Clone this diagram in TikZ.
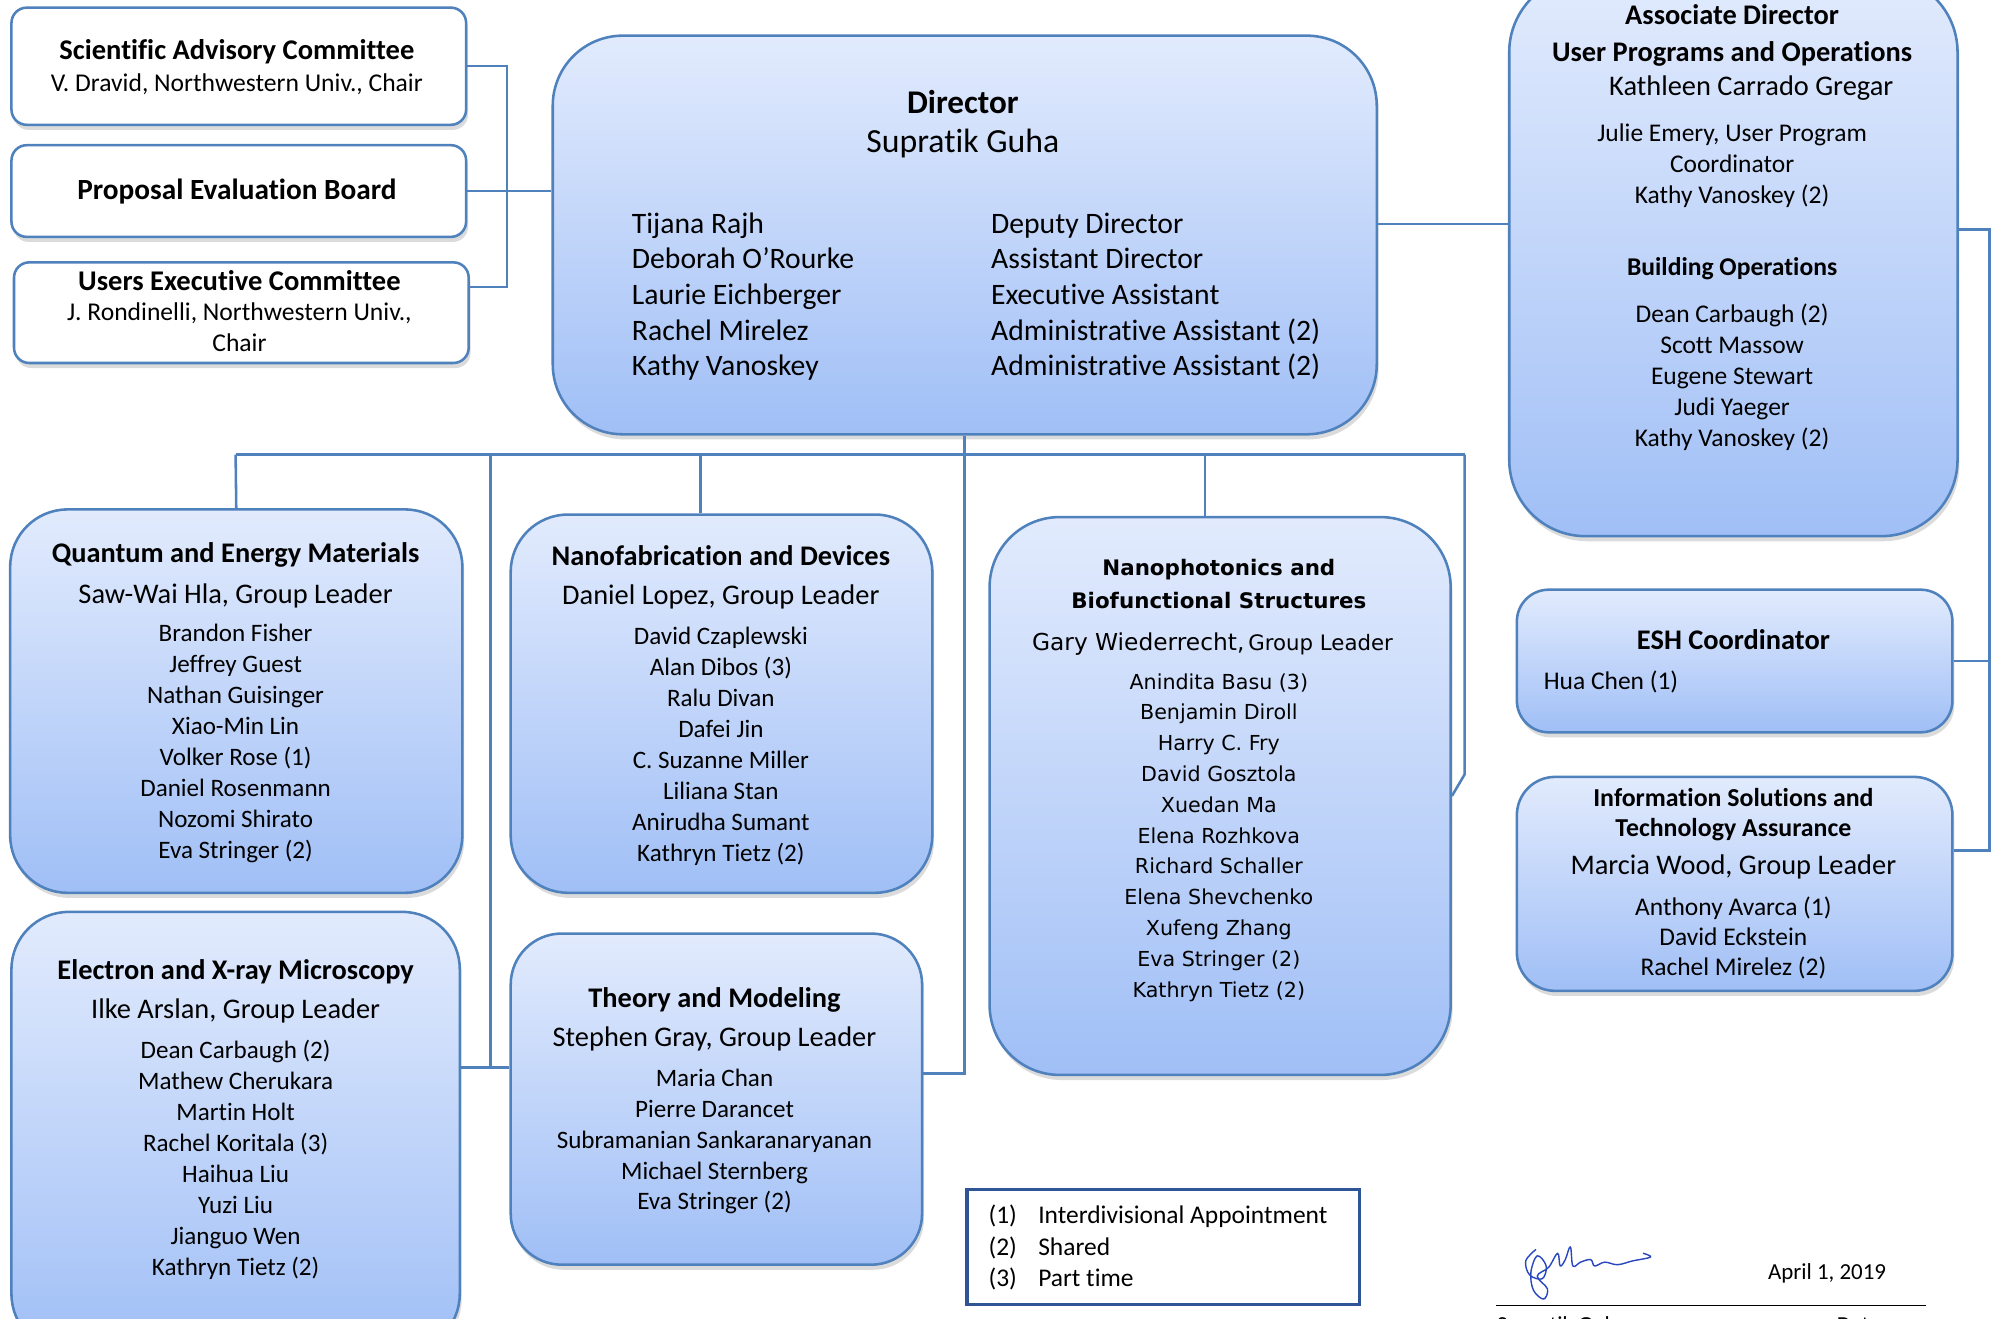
\documentclass[tikz,border=0pt]{standalone}
\usepackage{fontspec}
\setmainfont{Carlito}[Ligatures=NoCommon]
\newfontfamily\dvs{DejaVu Sans}
\usetikzlibrary{shadows,calc}
\definecolor{bord}{RGB}{79,129,189}
\definecolor{topc}{RGB}{226,235,253}
\definecolor{botc}{RGB}{160,191,246}
\definecolor{legb}{RGB}{47,85,151}
\definecolor{sigb}{RGB}{40,70,190}
\newcommand{\fs}[1]{\fontsize{#1}{#1}\selectfont}
\newcommand{\tlines}[6]{%
  \foreach \s [count=\i] in {#6}
    \node[anchor=base, inner sep=0pt, font={#5}] (#1-\i) at (#2,{#3+(\i-1)*#4}) {\s};}
\begin{document}
\begin{tikzpicture}[x=1pt,y=-1pt,
  shad/.style={drop shadow={shadow xshift=1.5pt, shadow yshift=-4pt, opacity=0.28}},
  grp/.style={draw=bord, line width=2pt, top color=topc, bottom color=botc, rounded corners=#1, shad, anchor=north west, inner sep=0pt},
  com/.style={draw=bord, line width=2pt, fill=white, rounded corners=12pt, shad, anchor=north west, inner sep=0pt},
  conn/.style={draw=bord, line width=2pt},
  tx/.style={anchor=base, inner sep=0pt},
  txw/.style={anchor=base west, inner sep=0pt}]
\useasboundingbox (0,0) rectangle (1568,1035);
\fill[white] (0,0) rectangle (1568,1035);

% ---------- boxes ----------
\node[com, minimum width=357, minimum height=92] (sac) at (8,5) {};
\node[com, minimum width=357, minimum height=72] (peb) at (8,113) {};
\node[com, minimum width=357, minimum height=79] (uec) at (10,205) {};
\node[grp=55pt, minimum width=647, minimum height=313] (dir) at (433,27) {};
\node[grp=60pt, minimum width=352, minimum height=440] (ad) at (1184,-20) {};
\node[grp=25pt, minimum width=342, minimum height=112] (esh) at (1190,462) {};
\node[grp=30pt, minimum width=342, minimum height=168] (ista) at (1190,609) {};
\node[grp=45pt, minimum width=355, minimum height=301] (qem) at (7,399) {};
\node[grp=45pt, minimum width=331, minimum height=297] (nf) at (400,403) {};
\node[grp=55pt, minimum width=362, minimum height=438] (np) at (776,405) {};
\node[grp=45pt, minimum width=352, minimum height=345] (el) at (8,715) {};
\node[grp=40pt, minimum width=323, minimum height=260] (th) at (400,732) {};
\node[draw=legb, line width=2.5pt, fill=white, anchor=north west, inner sep=0pt, minimum width=308, minimum height=90] (leg) at (758,933) {};

% ---------- connectors ----------
\coordinate (k) at (398,152);
\draw[conn] (sac.east) -| (k) |- ($(uec.east)+(0,-20)$);
\draw[conn] (peb.east) -- (peb.east -| dir.west);
\coordinate (ja) at (1130,176);
\draw[conn] (dir.east |- ja) -- (ad.west |- ja);
\coordinate (jr) at (1562,180);
\coordinate (ji) at (1540,668);
\draw[conn] (ad.east |- jr) -- (jr) |- (ista.east |- ji);
\draw[conn] (esh.east) -- (esh.east -| jr);
\coordinate (b0) at (185,357);
\coordinate (b1) at (385,357);
\coordinate (b2) at (550,357);
\coordinate (b3) at (946,357);
\coordinate (b4) at (1150,357);
\coordinate (jt) at (755,843);
\coordinate (jl) at (385,838);
\draw[conn] (b0) -- (b4);
\draw[conn] (dir.south) -- (dir.south |- jt) -- (th.east |- jt);
\draw[conn] (b0) -- (qem.north);
\draw[conn] (b2) -- (b2 |- nf.north);
\draw[conn] (b3) -- (b3 |- np.north);
\draw[conn] (b4) -- ($(b4 |- np.east)+(0,-17)$) -- (np.east);
\draw[conn] (b1) -- (jl);
\draw[conn] (el.east |- jl) -- (th.west |- jl);

% ---------- committee texts ----------
\node[tx, font=\bfseries\fs{22.4}] (sac-t) at (186,47) {Scientific Advisory Committee};
\node[tx, font=\fs{20.1}] (sac-s) at (186,72) {V. Dravid, Northwestern Univ., Chair};
\node[tx, font=\bfseries\fs{23}] (peb-t) at (186,157) {Proposal Evaluation Board};
\node[tx, font=\bfseries\fs{22.4}] (uec-t) at (188,228) {Users Executive Committee};
\tlines{uec}{188}{252}{24}{\fs{20.1}}{{J. Rondinelli, Northwestern Univ.,}, Chair}

% ---------- director ----------
\node[tx, font=\bfseries\fs{26}] (dir-t) at (756,89) {Director};
\node[tx, font=\fs{26.5}] (dir-n) at (756,120) {Supratik Guha};
\foreach \s [count=\i] in {Tijana Rajh, Deborah O’Rourke, Laurie Eichberger, Rachel Mirelez, Kathy Vanoskey}
  \node[txw, font=\fs{23.3}] (dl-\i) at (496,{183+(\i-1)*28}) {\s};
\foreach \s [count=\i] in {Deputy Director, Assistant Director, Executive Assistant, Administrative Assistant (2), Administrative Assistant (2)}
  \node[txw, font=\fs{23.3}] (dr-\i) at (778,{183+(\i-1)*28}) {\s};

% ---------- associate director ----------
\node[tx, font=\bfseries\fs{22.3}] (ad-t1) at (1360,19) {Associate Director};
\node[tx, font=\bfseries\fs{22.3}] (ad-t2) at (1360,48) {User Programs and Operations};
\node[tx, font=\fs{22.3}] (ad-n) at (1375,75) {Kathleen Carrado Gregar};
\tlines{adl}{1360}{111}{24.5}{\fs{20}}{{Julie Emery, User Program}, Coordinator, Kathy Vanoskey (2)}
\node[tx, font=\bfseries\fs{20.1}] (ad-b) at (1360,216) {Building Operations};
\tlines{adb}{1360}{253}{24.3}{\fs{20}}{Dean Carbaugh (2), Scott Massow, Eugene Stewart, Judi Yaeger, Kathy Vanoskey (2)}

% ---------- ESH / ISTA ----------
\node[tx, font=\bfseries\fs{22.3}] (esh-t) at (1361,510) {ESH Coordinator};
\node[txw, font=\fs{20}] (esh-n) at (1212,541) {Hua Chen (1)};
\node[tx, font=\bfseries\fs{20.3}] (ista-t1) at (1361,633) {Information Solutions and};
\node[tx, font=\bfseries\fs{20.3}] (ista-t2) at (1361,657) {Technology Assurance};
\node[tx, font=\fs{22.3}] (ista-n) at (1361,687) {Marcia Wood, Group Leader};
\tlines{istal}{1361}{719}{23.5}{\fs{20}}{Anthony Avarca (1), David Eckstein, Rachel Mirelez (2)}

% ---------- QEM ----------
\node[tx, font=\bfseries\fs{22.3}] (qem-t) at (185,442) {Quantum and Energy Materials};
\node[tx, font=\fs{22.3}] (qem-n) at (185,474) {Saw-Wai Hla, Group Leader};
\tlines{qeml}{185}{504}{24.3}{\fs{19.7}}{Brandon Fisher, Jeffrey Guest, Nathan Guisinger, Xiao-Min Lin, Volker Rose (1), Daniel Rosenmann, Nozomi Shirato, Eva Stringer (2)}

% ---------- Nanofab ----------
\node[tx, font=\bfseries\fs{22.3}] (nf-t) at (566,444) {Nanofabrication and Devices};
\node[tx, font=\fs{22.3}] (nf-n) at (566,475) {Daniel Lopez, Group Leader};
\tlines{nfl}{566}{506}{24.3}{\fs{19.7}}{David Czaplewski, Alan Dibos (3), Ralu Divan, Dafei Jin, C. Suzanne Miller, Liliana Stan, Anirudha Sumant, Kathryn Tietz (2)}

% ---------- Nanophotonics ----------
\node[tx, font=\dvs\bfseries\fs{16.8}] (np-t1) at (957,452) {Nanophotonics and};
\node[tx, font=\dvs\bfseries\fs{16.8}] (np-t2) at (957,478) {Biofunctional Structures};
\node[tx, font=\dvs] (np-n) at (952,511) {{\fs{18.3}Gary Wiederrecht,} {\fs{16.7}Group Leader}};
\tlines{npl}{957}{541}{24.2}{\dvs\fs{16.2}}{Anindita Basu (3), Benjamin Diroll, Harry C. Fry, David Gosztola, Xuedan Ma, Elena Rozhkova, Richard Schaller, Elena Shevchenko, Xufeng Zhang, Eva Stringer (2), Kathryn Tietz (2)}

% ---------- Electron ----------
\node[tx, font=\bfseries\fs{22.3}] (el-t) at (185,769) {Electron and X-ray Microscopy};
\node[tx, font=\fs{22.3}] (el-n) at (185,800) {Ilke Arslan, Group Leader};
\tlines{ell}{185}{831}{24.3}{\fs{19.7}}{Dean Carbaugh (2), Mathew Cherukara, Martin Holt, Rachel Koritala (3), Haihua Liu, Yuzi Liu, Jianguo Wen, Kathryn Tietz (2)}

% ---------- Theory ----------
\node[tx, font=\bfseries\fs{22.3}] (th-t) at (561,791) {Theory and Modeling};
\node[tx, font=\fs{22.3}] (th-n) at (561,822) {Stephen Gray, Group Leader};
\tlines{thl}{561}{853}{24.25}{\fs{19.7}}{Maria Chan, Pierre Darancet, Subramanian Sankaranaryanan, Michael Sternberg, Eva Stringer (2)}

% ---------- legend ----------
\foreach \a/\b [count=\i] in {(1)/Interdivisional Appointment, (2)/Shared, (3)/Part time}{
  \node[txw, font=\fs{20}] (lga-\i) at (776,{961+(\i-1)*24.5}) {\a};
  \node[txw, font=\fs{20}] (lgb-\i) at (815,{961+(\i-1)*24.5}) {\b};
}

% ---------- signature ----------
\draw[sigb, line width=1.1pt, line join=round] plot[smooth, tension=0.6] coordinates {(1206,981) (1198,990) (1201,1001) (1211,1004) (1214,994) (1207,986) (1202,999) (1204,1013) (1212,1020) (1215,1012) (1207,1002) (1216,995) (1223,984) (1225,994) (1229,989) (1233,979) (1235,994) (1241,991) (1249,989) (1252,994) (1260,991) (1270,993) (1282,990) (1296,987) (1290,984)};
\node[txw, font=\fs{18}] (date) at (1388,1005) {April 1, 2019};
\coordinate (sl) at (1175,1025);
\coordinate (sr) at (1512,1025);
\draw[line width=1.2pt] (sl) -- (sr);
\node[txw, font=\fs{18}] (sgn) at (1175,1046) {Supratik Guha};
\node[txw, font=\fs{18}] (sdt) at (1442,1046) {Date};
\end{tikzpicture}
\end{document}
